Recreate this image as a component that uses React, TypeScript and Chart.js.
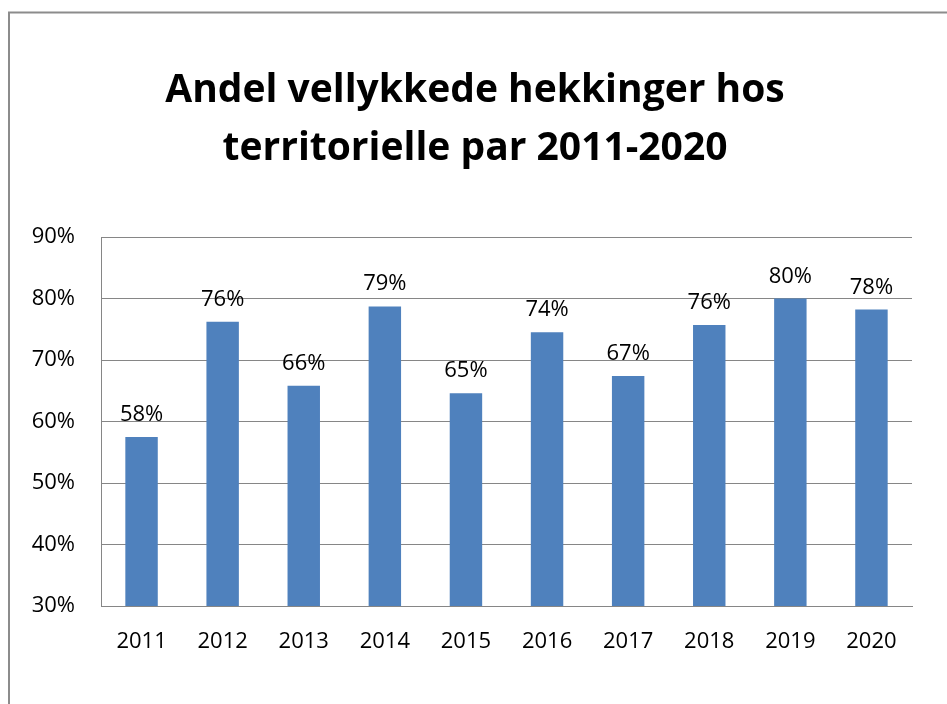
import React, { useEffect, useRef } from "react";
import { Chart, registerables } from "chart.js";

Chart.register(...registerables);

const titleLines = ["Andel vellykkede hekkinger hos", "territorielle par 2011-2020"];
const years = ["2011", "2012", "2013", "2014", "2015", "2016", "2017", "2018", "2019", "2020"];
const shares = [57.5, 76.2, 65.8, 78.7, 64.6, 74.5, 67.4, 75.7, 80.0, 78.2];
const shareLabels = ["58%", "76%", "66%", "79%", "65%", "74%", "67%", "76%", "80%", "78%"];
const yMin = 30;
const yMax = 90;
const yStep = 10;

const FONT = "'Open Sans', 'Noto Sans', sans-serif";
const GRID = "#868686";

const framePlugin = {
  id: "frame",
  beforeDraw(chart: any) {
    const ctx = chart.ctx;
    ctx.save();
    ctx.fillStyle = "#ffffff";
    ctx.fillRect(0, 0, chart.width, chart.height);
    ctx.strokeStyle = "#8c8c8c";
    ctx.lineWidth = 2;
    ctx.beginPath();
    ctx.moveTo(9, chart.height);
    ctx.lineTo(9, 12.5);
    ctx.lineTo(chart.width, 12.5);
    ctx.stroke();
    ctx.restore();
  },
};

const titlePlugin = {
  id: "twoLineTitle",
  afterDraw(chart: any) {
    const ctx = chart.ctx;
    ctx.save();
    ctx.font = `bold 39px ${FONT}`;
    ctx.fillStyle = "#000000";
    ctx.textAlign = "center";
    ctx.textBaseline = "alphabetic";
    const cx = chart.width / 2 + 1.5;
    ctx.fillText(titleLines[0], cx, 101.5);
    ctx.fillText(titleLines[1], cx, 159.5);
    ctx.restore();
  },
};

const labelPlugin = {
  id: "barLabels",
  afterDatasetsDraw(chart: any) {
    const ctx = chart.ctx;
    const meta = chart.getDatasetMeta(0);
    ctx.save();
    ctx.font = `22px ${FONT}`;
    ctx.fillStyle = "#000000";
    ctx.textAlign = "center";
    ctx.textBaseline = "alphabetic";
    meta.data.forEach((bar: any, i: number) => {
      ctx.fillText(shareLabels[i], bar.x, bar.y - 16);
    });
    ctx.restore();
  },
};

export default function App() {
  const ref = useRef<HTMLCanvasElement | null>(null);

  useEffect(() => {
    if (!ref.current) return;
    const chart = new Chart(ref.current, {
      type: "bar",
      data: {
        labels: years,
        datasets: [
          {
            data: shares,
            backgroundColor: "#4f81bd",
            borderWidth: 0,
            barPercentage: 0.4,
            categoryPercentage: 1,
          },
        ],
      },
      options: {
        responsive: false,
        animation: false,
        layout: { padding: { left: 0, right: 35, top: 237, bottom: 0 } },
        plugins: {
          legend: { display: false },
          tooltip: { enabled: false },
          title: { display: false },
        },
        scales: {
          x: {
            grid: { display: false, drawTicks: false },
            border: { display: true, color: GRID, width: 1 },
            ticks: { color: "#000000", font: { family: FONT, size: 22 }, padding: 23, maxRotation: 0 },
            afterFit(scale: any) {
              scale.height = 98;
            },
          },
          y: {
            min: yMin,
            max: yMax,
            grid: { color: GRID, lineWidth: 1, drawTicks: false },
            border: { display: true, color: GRID, width: 1 },
            ticks: {
              stepSize: yStep,
              color: "#000000",
              font: { family: FONT, size: 22 },
              padding: 26,
              callback: (v: any) => `${v}%`,
            },
            afterFit(scale: any) {
              scale.width = 101;
            },
          },
        },
      },
      plugins: [framePlugin, titlePlugin, labelPlugin],
    });
    return () => chart.destroy();
  }, []);

  return (
    <div style={{ position: "absolute", left: 0, top: 0, width: 947, height: 704, overflow: "hidden" }}>
      <canvas ref={ref} width={947} height={704} style={{ display: "block" }} />
    </div>
  );
}
